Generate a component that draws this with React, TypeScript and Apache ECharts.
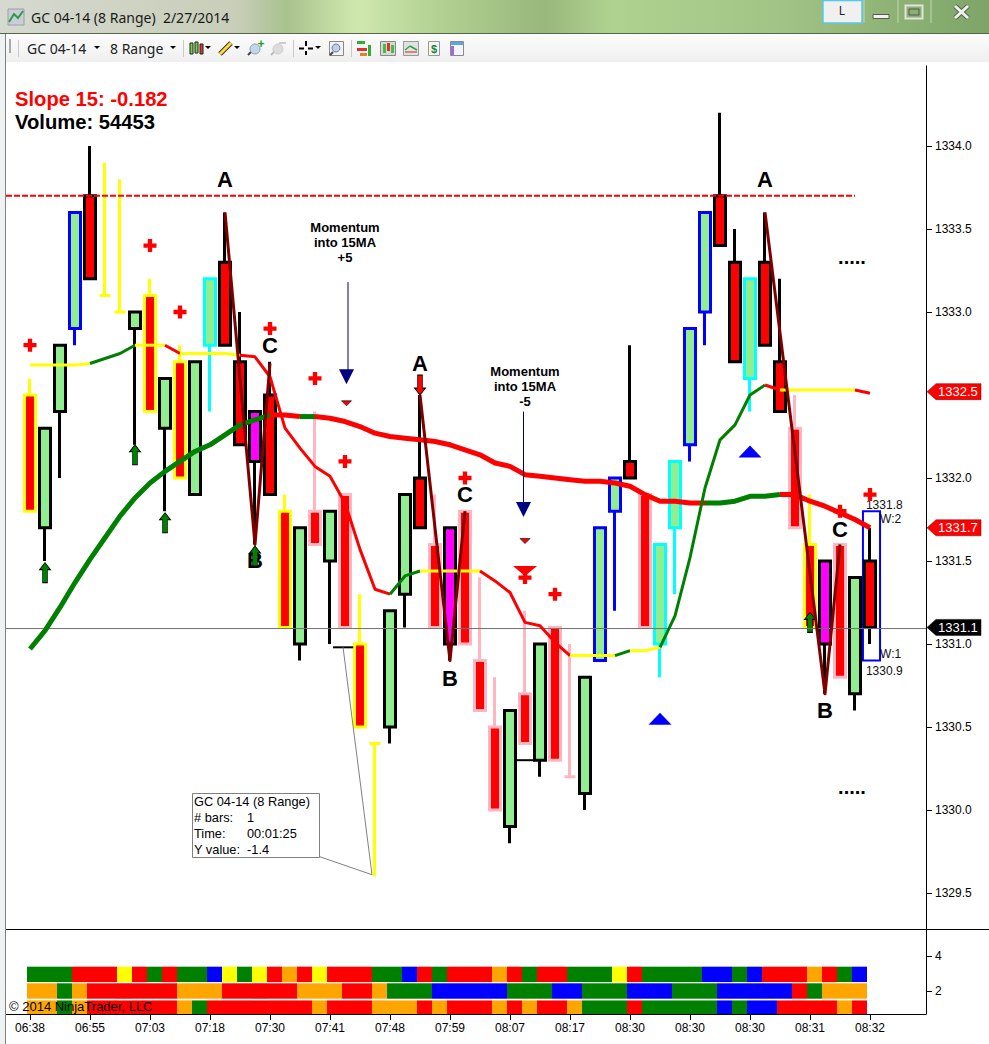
import React, { useEffect, useRef } from "react";
import * as echarts from "echarts";

const W = 989;
const H = 1044;
const FONT = '"Liberation Sans", Arial, sans-serif';
const UI = '"Noto Sans", sans-serif';

// ---- bars, one row per bar: top of body, bottom of body, high, low, look
const barTops = [1332.5,1332.3,1332.8,1333.6,1333.7,1333.1,1333.0,1333.0,1333.1,1332.6,1332.7,1332.7,1333.2,1333.3,1332.7,1332.4,1332.5,1331.8,1331.7,1331.8,1331.8,1331.9,1331.0,1330.4,1331.2,1331.9,1332.0,1331.6,1331.7,1331.8,1330.9,1330.5,1330.6,1330.7,1331.0,1331.1,1330.2,1330.8,1331.7,1332.0,1332.1,1331.9,1331.6,1332.1,1332.9,1333.6,1333.7,1333.3,1333.2,1333.3,1332.7,1332.3,1331.6,1331.5,1331.6,1331.4,1331.5];
const barBottoms = [1331.8,1331.7,1332.4,1332.9,1333.2,1333.1,1333.0,1332.9,1332.4,1332.3,1332.0,1331.9,1332.8,1332.8,1332.2,1332.1,1331.9,1331.1,1331.0,1331.6,1331.5,1331.1,1330.5,1330.4,1330.5,1331.3,1331.7,1331.1,1331.0,1331.0,1330.6,1330.0,1329.9,1330.4,1330.3,1330.3,1330.2,1330.1,1330.9,1331.8,1332.0,1331.1,1331.0,1331.7,1332.2,1333.0,1333.4,1332.7,1332.6,1332.8,1332.4,1331.7,1331.1,1331.0,1330.8,1330.7,1331.1];
const barHighs = [1332.6,1332.3,1332.8,1333.6,1334.0,1333.9,1333.8,1333.0,1333.2,1332.6,1332.8,1332.7,1333.2,1333.6,1333.0,1332.4,1332.7,1331.9,1331.7,1332.4,1331.8,1331.9,1331.3,1330.4,1331.2,1331.9,1332.5,1331.9,1331.7,1331.8,1331.4,1330.8,1330.6,1331.2,1331.0,1331.1,1331.0,1330.8,1331.7,1332.0,1332.8,1331.9,1331.6,1332.1,1332.9,1333.6,1334.2,1333.5,1333.2,1333.6,1333.2,1332.5,1331.9,1331.5,1331.6,1331.4,1331.7];
const barLows = [1331.8,1331.5,1332.0,1332.8,1333.2,1333.1,1333.0,1332.2,1332.4,1331.8,1332.0,1331.9,1332.4,1332.8,1332.2,1331.6,1331.9,1331.1,1330.9,1331.6,1331.0,1331.1,1330.5,1329.6,1330.4,1331.1,1331.7,1331.1,1330.9,1331.0,1330.6,1330.0,1329.8,1330.4,1330.2,1330.3,1330.2,1330.0,1330.9,1331.2,1332.0,1331.1,1330.8,1331.3,1332.1,1332.8,1333.4,1332.7,1332.4,1332.8,1332.4,1331.7,1331.1,1330.7,1330.8,1330.6,1331.0];
const barFills = "RGGGRGGGRGRGGRRMRRGRGRRGGGRRMRRRGRGRRGGGRRGGGGRRGRRRRMRGR".split("");
const barEdges = "YKKBKYYKYKYKCKKKKYKPKPYYKKKPKPPPKPKPPKBBKPCCBBKKCKKPYKPKK".split("");

// ---- moving averages
const slowMA = [1330.97,1331.08,1331.22,1331.37,1331.51,1331.64,1331.77,1331.88,1331.97,1332.04,1332.10,1332.16,1332.20,1332.26,1332.32,1332.35,1332.38,1332.38,1332.37,1332.37,1332.36,1332.34,1332.31,1332.27,1332.25,1332.24,1332.23,1332.22,1332.20,1332.17,1332.14,1332.09,1332.07,1332.02,1332.01,1332.00,1331.99,1331.98,1331.98,1331.97,1331.95,1331.90,1331.86,1331.86,1331.85,1331.85,1331.85,1331.86,1331.89,1331.89,1331.90,1331.90,1331.86,1331.83,1331.79,1331.75,1331.70];
const fastMA = [1332.68,1332.68,1332.68,1332.68,1332.69,1332.72,1332.75,1332.80,1332.80,1332.80,1332.75,1332.75,1332.75,1332.75,1332.74,1332.73,1332.61,1332.30,1332.18,1332.07,1332.01,1331.85,1331.57,1331.33,1331.30,1331.41,1331.44,1331.44,1331.44,1331.44,1331.44,1331.38,1331.31,1331.13,1331.11,1331.01,1330.93,1330.93,1330.93,1330.93,1330.96,1330.96,1330.98,1331.17,1331.52,1331.94,1332.23,1332.32,1332.50,1332.56,1332.53,1332.53,1332.53,1332.53,1332.53,1332.53,1332.51];
const slowRuns: [number, number, string][] = [[0,16,"G"],[16,18,"R"],[18,19,"G"],[19,45,"R"],[45,50,"G"],[50,56,"R"]];
const fastRuns: [number, number, string][] = [[0,4,"Y"],[4,7,"G"],[7,9,"Y"],[9,10,"R"],[10,14,"Y"],[14,24,"R"],[24,26,"G"],[26,30,"Y"],[30,36,"R"],[36,39,"Y"],[39,40,"G"],[40,42,"Y"],[42,49,"G"],[49,50,"R"],[50,55,"Y"],[55,56,"R"]];

// ---- A-B-C swings
const swingOne = [[13,1333.6],[15,1331.6],[16,1332.69]];
const swingTwo = [[26,1332.5],[28,1330.9],[29,1331.8]];
const swingThree = [[49,1333.6],[53,1330.7],[54,1331.6]];

// ---- levels
const resistanceLevel = 1333.7;
const resistanceEndBar = 55;
const lastPriceLevel = 1331.093;
const tagValues = [1332.52,1331.7,1331.1];
const tagLabels = ["1332.5","1331.7","1331.1"];
const tagColors = ["#ff0000","#ff0000","#000000"];

// ---- markers
const plusMarks = [[0,1332.8],[8,1333.4],[10,1333.0],[16,1332.9],[19,1332.6],[21,1332.1],[29,1332.0],[33,1331.4],[35,1331.3],[54,1331.8],[56,1331.9]];
const upArrows = [[1,1331.43],[7,1332.14],[9,1331.73],[15,1331.53],[52,1331.13]];
const downArrows = [[26,1332.56]];
const smallTriangles = [[21.1,1332.45],[33,1331.62]];
const bigRedTriangles = [[33,1331.44]];
const navyTriangles = [[21.1,1332.61],[32.9,1331.81]];
const blueTriangles = [[48,1332.16],[42,1330.55]];
const navyStemOne = [[21.2,1333.18],[21.2,1332.65]];
const navyStemTwo = [[32.9,1332.4],[32.9,1331.85]];

// ---- text placed on the price scale
const noteBars = [13,49,26,15,28,53,16,29,54,21,33,54.8,54.8];
const notePrices = [1333.8,1333.8,1332.69,1331.5,1330.79,1330.6,1332.8,1331.9,1331.69,1333.42,1332.55,1333.33,1330.14];
const noteTexts = ["A","A","A","B","B","B","C","C","C","Momentum\ninto 15MA\n+5","Momentum\ninto 15MA\n-5",".....","....."];
const noteKinds = ["abc","abc","abc","abc","abc","abc","abc","abc","abc","note","note","dots","dots"];

const rangeBox = { barLeft: 55.53, barRight: 56.67, top: 1331.8, bottom: 1330.9 };
const rangeBoxBars = [55.73,56.67,56.67,55.73];
const rangeBoxPrices = [1331.84,1331.75,1330.94,1330.84];
const rangeBoxTexts = ["1331.8","W:2","W:1","1330.9"];

// ---- ruler
const rulerAnchor = [[20.2,1330.98],[21.55,1330.98]];
const rulerLeg = [[20.87,1330.98],[22.8,1329.61],[19.27,1329.72]];
const otherFlat = [[32.45,1330.3],[33.7,1330.3]];
const rulerRows = ["GC 04-14 (8 Range)","# bars:","Time:","Y value:"];
const rulerValues = ["","1","00:01:25","-1.4"];

// ---- lower strips, one letter per cell
const stripOne = "GGGRRRYRGRGGBYGYRORYRRRGGBRGRRRORGRRGGGYRGGGGBBGBRRRORGB".split("");
const stripTwo = "OOGORRRRRROOORRRRROOORROGGGBBBBBGGGBBGGGBBBGGGBBBBBRGOOO".split("");
const stripThree = "OOGORRRRRROGRRRRRRRORRROOORORRRORORROGGGRGGGGGBGBBRRRROR".split("");
const stripLevels = [2.95,2,1.02];

// ---- axes
const timeLabels = ["06:38","06:55","07:03","07:18","07:30","07:41","07:48","07:59","08:07","08:17","08:30","08:30","08:30","08:31","08:32"];
const timeBars = [0,4,8,12,16,20,24,28,32,36,40,44,48,52,56];
const priceTicks = [1329.5,1330,1330.5,1331,1331.5,1332,1333,1333.5,1334];
const stripTicks = [2,4];

const COLORS: Record<string, string> = {
  G: "#008000", R: "#ff0000", Y: "#ffff00", B: "#0000ff", O: "#ffa500",
};
const FILLS: Record<string, string> = { G: "#90ee90", R: "#ff0000", M: "#ff00ff" };
const EDGES: Record<string, string> = {
  K: "#000000", Y: "#ffff00", B: "#0000ff", C: "#00ffff", P: "#ffb6c1",
};

const candleData = barTops.map((top, i) => {
  const bottom = barBottoms[i];
  const up = barFills[i] === "G";
  const fill = FILLS[barFills[i]];
  const edge = EDGES[barEdges[i]];
  return {
    value: [i, up ? bottom : top, up ? top : bottom, barLows[i], barHighs[i]],
    itemStyle: {
      color: fill, color0: fill, borderWidth: 3,
      borderColor: edge, borderColor0: edge, borderColorDoji: edge,
    },
  };
});

function lineSeries(name: string, data: number[][], color: string, width: number, extra: any = {}) {
  return {
    name, type: "line", data, xAxisIndex: 0, yAxisIndex: 0, symbol: "none", silent: true,
    lineStyle: { color, width, cap: "butt", join: "round" }, clip: false, ...extra,
  };
}

function runSeries(prefix: string, values: number[], runs: [number, number, string][], width: number) {
  return runs.map(([a, b, c], k) =>
    lineSeries(`${prefix}${k}`, values.slice(a, b + 1).map((v, i) => [a + i, v]), COLORS[c], width),
  );
}

function marks(name: string, data: number[][], symbol: string, size: any, color: string, extra: any = {}) {
  return {
    name, type: "scatter", data, xAxisIndex: 0, yAxisIndex: 0, silent: true, symbol, symbolSize: size,
    itemStyle: { color, opacity: 1 }, ...extra,
  };
}

function stripSeries(cells: string[], level: number, name: string) {
  return {
    name, type: "custom", xAxisIndex: 1, yAxisIndex: 1, silent: true,
    data: cells.map((_, i) => [i, level]),
    renderItem: (p: any, api: any) => {
      const x = api.value(0);
      const lv = api.value(1);
      const a = api.coord([x - 0.2, lv + 0.44]);
      const b = api.coord([x + 0.8, lv - 0.44]);
      const bottom = Math.min(b[1], 1014);
      return {
        type: "rect",
        shape: { x: a[0], y: a[1], width: b[0] - a[0], height: bottom - a[1] },
        style: { fill: COLORS[cells[p.dataIndex]] },
      };
    },
  };
}

function txt(text: string, x: number, y: number, size: number, fill: string, family = FONT, weight = "normal", align = "left") {
  return {
    type: "text", x, y, z: 100, silent: true,
    style: { text, fill, fontSize: size, fontFamily: family, fontWeight: weight, textAlign: align, textVerticalAlign: "middle", verticalAlign: "middle" },
  };
}
function box(x: number, y: number, w: number, h: number, fill: any, stroke?: string, lw = 1) {
  return { type: "rect", z: 100, silent: true, shape: { x, y, width: w, height: h }, style: { fill, stroke, lineWidth: lw } };
}
function seg(x1: number, y1: number, x2: number, y2: number, stroke: string, lw = 1) {
  return { type: "line", z: 100, silent: true, shape: { x1, y1, x2, y2 }, style: { stroke, lineWidth: lw } };
}
function tri(x: number, y: number) {
  return { type: "polygon", z: 100, silent: true, shape: { points: [[x - 3, y - 2], [x + 3, y - 2], [x, y + 1]] }, style: { fill: "#000" } };
}
function ball(x: number, y: number, r: number, fill: string, stroke: string) {
  return { type: "circle", z: 100, silent: true, shape: { cx: x, cy: y, r }, style: { fill, stroke, lineWidth: 1 } };
}

const chrome: any[] = [
  box(0, 0, W, 34, new echarts.graphic.LinearGradient(0, 0, 1, 0, [
    { offset: 0, color: "#d5d9d0" }, { offset: 0.24, color: "#c8ceb8" }, { offset: 0.29, color: "#a9c28e" },
    { offset: 0.36, color: "#cfe8ae" }, { offset: 0.45, color: "#b0cf90" }, { offset: 0.55, color: "#98b87c" },
    { offset: 0.62, color: "#b0d290" }, { offset: 0.8, color: "#a0c284" }, { offset: 1, color: "#7ea468" },
  ])),
  seg(0, 33.5, W, 33.5, "#55664a"),
  box(0, 34, 5, H - 34, "#eef2f3"),
  seg(5.5, 34, 5.5, H, "#808080"),
  box(6, 34, W - 6, 28, new echarts.graphic.LinearGradient(0, 0, 0, 1, [
    { offset: 0, color: "#fcfcfc" }, { offset: 1, color: "#efefef" },
  ])),
  // title bar
  box(8, 9, 16, 16, "#c9ced6", "#9aa0a8"),
  { type: "polyline", z: 100, silent: true, shape: { points: [[9, 22], [14, 14], [18, 18], [23, 11]] }, style: { stroke: "#2c9a48", lineWidth: 2, fill: "none" } },
  txt("GC 04-14 (8 Range)  2/27/2014", 31, 17, 14, "#1a1a1a", UI),
  // window buttons
  box(823, 0.5, 39, 22.5, "#f0f0f0", "#55c8ee", 1.5),
  txt("L", 842, 10, 12, "#222", UI, "normal", "center"),
  box(873, 14.5, 16, 4, "#f2f2f2", "#555a50"),
  box(905.5, 5.5, 17, 13, "none", "#dfe4dc", 2),
  box(909, 9, 10, 6, "none", "#555a50"),
  seg(955, 6, 968, 18, "#55664a", 5),
  seg(968, 6, 955, 18, "#55664a", 5),
  seg(955, 6, 968, 18, "#f0f0f0", 3),
  seg(968, 6, 955, 18, "#f0f0f0", 3),
  seg(864, 0, 864, 23, "#c4d8b4"), seg(898, 0, 898, 23, "#c4d8b4"), seg(931, 0, 931, 23, "#c4d8b4"),
  // toolbar
  seg(10, 39, 10, 53, "#aaaaaa", 2),
  seg(18.5, 40, 18.5, 57, "#c8c8c8"),
  txt("GC 04-14", 27, 48.5, 14, "#222", UI),
  tri(97, 48),
  txt("8 Range", 110, 48.5, 14, "#222", UI),
  tri(173, 48),
  seg(183.5, 40, 183.5, 57, "#c8c8c8"),
  box(190, 43, 3, 11, "#6fd63a", "#222"), box(195, 42, 3, 11, "#6fd63a", "#222"), box(200, 44, 3, 10, "#e23a2a", "#222"),
  tri(208, 48),
  seg(220, 54, 231, 43, "#333", 5), seg(220, 54, 231, 43, "#ffd93a", 3),
  tri(237, 48),
  seg(248, 55, 252, 51, "#444", 2), ball(255, 49, 5, "#bcd8ee", "#99a"),
  txt("+", 261, 44, 12, "#17a017", FONT, "bold", "center"),
  seg(271, 55, 275, 51, "#bbb", 2), ball(278, 49, 5, "#dcdcdc", "#ccc"), seg(279, 43, 286, 43, "#ccc", 2),
  seg(293.5, 40, 293.5, 57, "#c8c8c8"),
  seg(299, 48.5, 304, 48.5, "#000", 2), seg(308, 48.5, 313, 48.5, "#000", 2), seg(306, 41, 306, 46, "#000", 2), seg(306, 51, 306, 55, "#000", 2),
  tri(318, 48),
  box(329.5, 41.5, 14, 14, "#f4f4f4", "#888"), ball(336, 48, 4, "#b8d4ea", "#778"), seg(330, 55, 333, 52, "#444", 2),
  seg(351.5, 40, 351.5, 57, "#c8c8c8"),
  box(357, 41, 8, 3, "#30b030"), box(357, 48, 10, 3, "#e03030"), box(368, 45, 3, 11, "#30b030"), box(360, 53, 7, 3, "#e08030"),
  box(380.5, 41.5, 15, 14, "#d8d8d8", "#888"), box(383, 44, 3, 9, "#40c040"), box(387, 43, 3, 8, "#e03030"), box(391, 45, 3, 8, "#40c040"),
  box(403.5, 41.5, 15, 14, "#dde4dd", "#999"), seg(405, 50, 410, 46, "#30a060", 1.5), seg(410, 46, 417, 50, "#30a060", 1.5), seg(405, 52, 417, 52, "#e06060", 1.5),
  box(428.5, 41.5, 11, 14, "#f6f6f6", "#999"),
  txt("$", 434, 49, 11, "#108a30", FONT, "bold", "center"),
  box(450.5, 41.5, 13, 14, "#f4f6fa", "#889"), box(451, 42, 12, 3, "#5aa8dc"), box(451, 46, 3, 9, "#a06adc"),
  // upper-left readouts
  txt("Slope 15: -0.182", 15, 99, 20.2, "#ff0000", FONT, "bold"),
  txt("Volume: 54453", 15, 122, 20.2, "#000000", FONT, "bold"),
  // panel divider
  seg(6, 929.5, W, 929.5, "#000000"),
  // ruler box
  box(192.5, 793.5, 127, 64, "#ffffff", "#808080"),
  ...rulerRows.map((t, i) => txt(t, 194, 801 + i * 16, 12.8, "#000")),
  ...rulerValues.map((t, i) => txt(t, 247, 801 + i * 16, 12.8, "#000")),
  // copyright
  txt("\u00a9 2014 NinjaTrader, LLC", 9, 1006, 13, "#000000"),
];

function buildOption(): any {
  return {
    animation: false,
    backgroundColor: "#ffffff",
    tooltip: { show: false },
    grid: [
      { left: 6, right: W - 926, top: 66, height: 863 },
      { left: 6, right: W - 926, top: 929, height: 85 },
    ],
    xAxis: [
      { type: "value", gridIndex: 0, min: -1.6, max: 59.7333, show: false, splitLine: { show: false } },
      {
        type: "value", gridIndex: 1, min: -1.6, max: 59.7333, splitLine: { show: false },
        axisLine: { show: true, onZero: false, lineStyle: { color: "#000", width: 1 } },
        axisTick: { show: true, length: 6, customValues: timeBars, lineStyle: { color: "#000" } },
        axisLabel: {
          show: true, customValues: timeBars, margin: 8, color: "#000", fontSize: 12, fontFamily: FONT,
          formatter: (v: number) => timeLabels[timeBars.indexOf(v)] ?? "",
        },
      },
    ],
    yAxis: [
      {
        type: "value", gridIndex: 0, position: "right", min: 1329.283, max: 1334.482, splitLine: { show: false }, scale: true,
        axisLine: { show: true, onZero: false, lineStyle: { color: "#000", width: 1 } },
        axisTick: { show: true, length: 6, customValues: priceTicks, lineStyle: { color: "#000" } },
        axisLabel: {
          show: true, customValues: priceTicks, margin: 9, color: "#000", fontSize: 12, fontFamily: FONT,
          formatter: (v: number) => v.toFixed(1),
        },
      },
      {
        type: "value", gridIndex: 1, position: "right", min: 0.686, max: 5.543, splitLine: { show: false },
        axisLine: { show: true, onZero: false, lineStyle: { color: "#000", width: 1 } },
        axisTick: { show: true, length: 6, customValues: stripTicks, lineStyle: { color: "#000" } },
        axisLabel: { show: true, customValues: stripTicks, margin: 9, color: "#000", fontSize: 12, fontFamily: FONT, formatter: (v: number) => String(v) },
      },
    ],
    graphic: { elements: chrome },
    series: [
      lineSeries("lastPrice", [[-1.6, lastPriceLevel], [59.7333, lastPriceLevel]], "#707070", 1),
      stripSeries(stripOne, stripLevels[0], "stripOne"),
      stripSeries(stripTwo, stripLevels[1], "stripTwo"),
      stripSeries(stripThree, stripLevels[2], "stripThree"),
      {
        name: "price", type: "candlestick", xAxisIndex: 0, yAxisIndex: 0, barWidth: 11, silent: true, clip: false,
        data: candleData, itemStyle: { borderWidth: 3 },
      },
      lineSeries("resistance", [[-1.6, resistanceLevel], [resistanceEndBar, resistanceLevel]], "#ff0000", 2, {
        lineStyle: { color: "#ff0000", width: 2, type: [6, 2] },
      }),
      lineSeries("rulerAnchor", rulerAnchor, "#000000", 2),
      lineSeries("otherFlat", otherFlat, "#000000", 2),
      lineSeries("rulerLeg", rulerLeg, "#808080", 1),
      ...runSeries("slow", slowMA, slowRuns, 5),
      ...runSeries("fast", fastMA, fastRuns, 3),
      lineSeries("swingOne", swingOne, "#800000", 3),
      lineSeries("swingTwo", swingTwo, "#800000", 3),
      lineSeries("swingThree", swingThree, "#800000", 3),
      lineSeries("navyStemOne", navyStemOne, "#000080", 1),
      lineSeries("navyStemTwo", navyStemTwo, "#000080", 1),
      marks("plus", plusMarks, "path://M4 0H8V4H12V8H8V12H4V8H0V4H4Z", 13, "#ff0000"),
      marks("up", upArrows, "path://M5.5 0L11 7H8V20H3V7H0Z", [11, 20], "#008000", {
        itemStyle: { color: "#008000", borderColor: "#000", borderWidth: 0.8, opacity: 1 },
      }),
      marks("down", downArrows, "path://M5.5 0L11 7H8V20H3V7H0Z", [11, 20], "#ff0000", {
        symbolRotate: 180, itemStyle: { color: "#ff0000", borderColor: "#000", borderWidth: 0.8, opacity: 1 },
      }),
      marks("smallTri", smallTriangles, "triangle", [10, 5], "#ff0000", {
        symbolRotate: 180, itemStyle: { color: "#ff0000", borderColor: "#000", borderWidth: 0.6, opacity: 1 },
      }),
      marks("bigTri", bigRedTriangles, "triangle", [24, 10], "#ff0000", { symbolRotate: 180 }),
      marks("navyTri", navyTriangles, "triangle", [15, 15], "#000080", { symbolRotate: 180 }),
      marks("blueTri", blueTriangles, "triangle", [23, 12], "#0000ff"),
      {
        name: "rangeBox", type: "custom", xAxisIndex: 0, yAxisIndex: 0, silent: true,
        data: [[rangeBox.barLeft, rangeBox.top, rangeBox.barRight, rangeBox.bottom]],
        renderItem: (_: any, api: any) => {
          const a = api.coord([api.value(0), api.value(1)]);
          const b = api.coord([api.value(2), api.value(3)]);
          return {
            type: "rect", shape: { x: a[0], y: a[1], width: b[0] - a[0], height: b[1] - a[1] },
            style: { fill: "none", stroke: "#0000ff", lineWidth: 2 },
          };
        },
      },
      {
        name: "rangeBoxText", type: "custom", xAxisIndex: 0, yAxisIndex: 0, silent: true,
        data: rangeBoxTexts.map((_, i) => [rangeBoxBars[i], rangeBoxPrices[i]]),
        renderItem: (p: any, api: any) => {
          const c = api.coord([api.value(0), api.value(1)]);
          return {
            type: "text", x: c[0], y: c[1],
            style: { text: rangeBoxTexts[p.dataIndex], fill: "#111", fontSize: 12, fontFamily: FONT, textAlign: "left", verticalAlign: "middle" },
          };
        },
      },
      {
        name: "notes", type: "custom", xAxisIndex: 0, yAxisIndex: 0, silent: true,
        data: noteTexts.map((_, i) => [noteBars[i], notePrices[i]]),
        renderItem: (p: any, api: any) => {
          const c = api.coord([api.value(0), api.value(1)]);
          const kind = noteKinds[p.dataIndex];
          const size = kind === "abc" ? 22 : kind === "note" ? 13 : 20;
          return {
            type: "text", x: c[0], y: c[1],
            style: {
              text: noteTexts[p.dataIndex], fill: "#000", fontSize: size, fontWeight: "bold", fontFamily: FONT,
              lineHeight: kind === "note" ? 15 : undefined, textAlign: "center", verticalAlign: "middle",
            },
          };
        },
      },
      {
        name: "tags", type: "custom", xAxisIndex: 0, yAxisIndex: 0, silent: true,
        data: tagValues.map((v) => [0, v]),
        renderItem: (p: any, api: any) => {
          const y = api.coord([0, api.value(1)])[1];
          return {
            type: "group",
            children: [
              {
                type: "polygon",
                shape: { points: [[927, y], [936, y - 8], [981, y - 8], [981, y + 8], [936, y + 8]] },
                style: { fill: tagColors[p.dataIndex], stroke: tagColors[p.dataIndex] === "#000000" ? "#000" : "#600", lineWidth: 0.5 },
              },
              {
                type: "text", x: 938, y,
                style: { text: tagLabels[p.dataIndex], fill: "#fff", fontSize: 13, fontFamily: FONT, textAlign: "left", verticalAlign: "middle" },
              },
            ],
          };
        },
      },
    ],
  };
}

export default function App() {
  const ref = useRef<HTMLDivElement>(null);
  useEffect(() => {
    document.body.style.margin = "0";
    if (!ref.current) return;
    const chart = echarts.init(ref.current, undefined, { renderer: "svg" });
    chart.setOption(buildOption());
    return () => chart.dispose();
  }, []);
  return <div ref={ref} style={{ position: "absolute", left: 0, top: 0, width: W, height: H, background: "#fff" }} />;
}
